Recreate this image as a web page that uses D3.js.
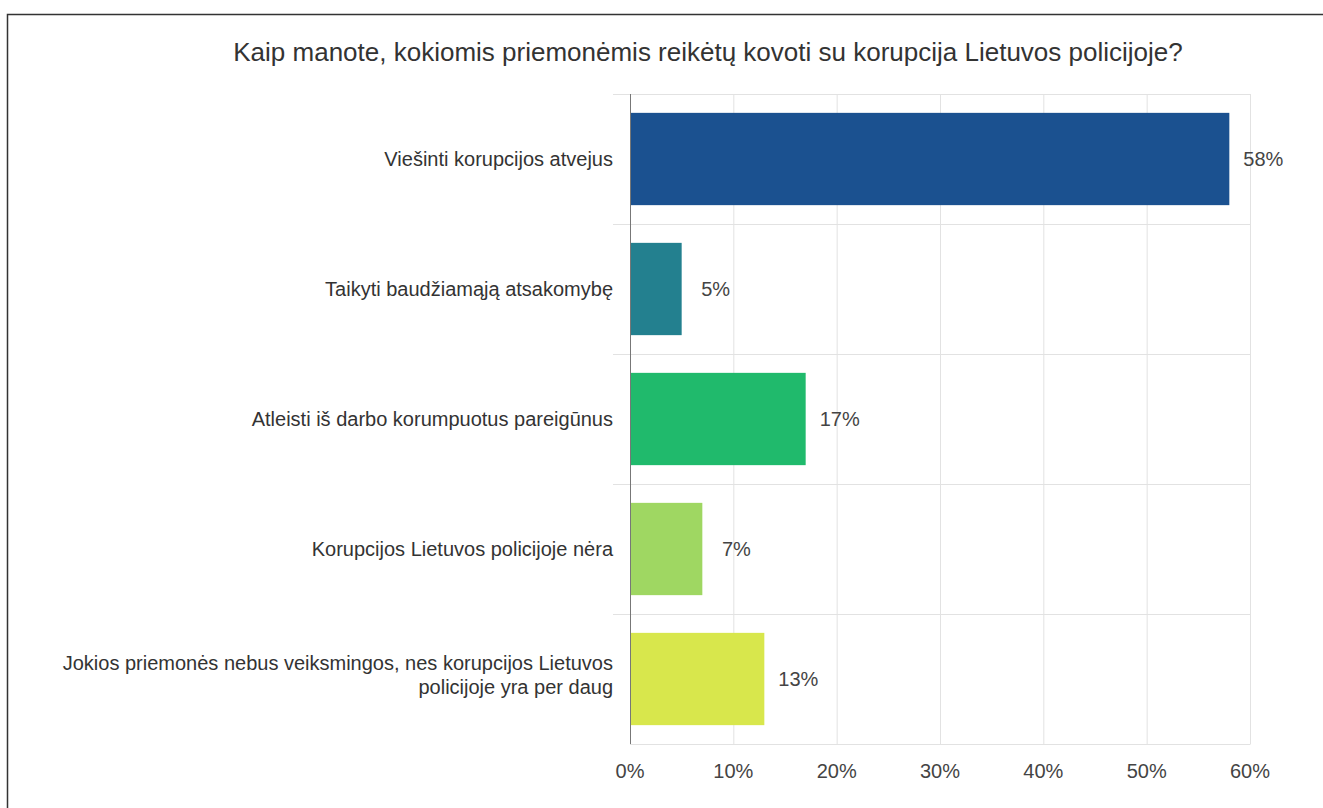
<!DOCTYPE html>
<html><head><meta charset="utf-8">
<script src="https://cdn.jsdelivr.net/npm/d3@7"></script>
<style>
html,body{margin:0;padding:0;background:#fff;}
svg{display:block;font-family:"Liberation Sans",Arial,sans-serif;}
</style></head>
<body>
<svg id="chart" width="1323" height="808"></svg>
<script>
const title = "Kaip manote, kokiomis priemonėmis reikėtų kovoti su korupcija Lietuvos policijoje?";
const categories = [
  ["Viešinti korupcijos atvejus"],
  ["Taikyti baudžiamąją atsakomybę"],
  ["Atleisti iš darbo korumpuotus pareigūnus"],
  ["Korupcijos Lietuvos policijoje nėra"],
  ["Jokios priemonės nebus veiksmingos, nes korupcijos Lietuvos", "policijoje yra per daug"]
];
const values = [58, 5, 17, 7, 13];
const colors = ["#1b5190", "#23808f", "#20ba6c", "#9fd762", "#d8e74c"];
const xTicks = [0, 10, 20, 30, 40, 50, 60];

const svg = d3.select("#chart");
// frame
svg.append("rect").attr("x", 7.5).attr("y", 14.5).attr("width", 1340).attr("height", 820)
  .attr("fill", "none").attr("stroke", "#333").attr("stroke-width", 1.5);

svg.append("text").attr("x", 708).attr("y", 61).attr("text-anchor", "middle")
  .attr("font-size", 26).attr("fill", "#333").text(title);

const x = d3.scaleLinear().domain([0, 60]).range([630, 1250]);
const y = d3.scaleBand().domain(d3.range(categories.length)).range([94, 744]).paddingInner(0.29).paddingOuter(0.145);
const yb = d3.scaleBand().domain(d3.range(categories.length)).range([94, 744]);

// vertical gridlines
svg.append("g").selectAll("line").data(xTicks.slice(1)).join("line")
  .attr("x1", d => x(d) + 0.5).attr("x2", d => x(d) + 0.5).attr("y1", 94).attr("y2", 744)
  .attr("stroke", "#e2e2e2");
// horizontal separators
const seps = d3.range(categories.length + 1);
svg.append("g").selectAll("line").data(seps).join("line")
  .attr("x1", d => d === categories.length ? x(0) : 613).attr("x2", x(60) + 0.5)
  .attr("y1", d => (d < categories.length ? yb(d) : 744) + 0.5)
  .attr("y2", d => (d < categories.length ? yb(d) : 744) + 0.5)
  .attr("stroke", "#e2e2e2");

// bars
svg.append("g").selectAll("rect").data(values).join("rect")
  .attr("x", x(0)).attr("y", (d, i) => y(i)).attr("width", d => x(d) - x(0)).attr("height", y.bandwidth())
  .attr("fill", (d, i) => colors[i]);

// zero axis
svg.append("line").attr("x1", x(0) + 0.5).attr("x2", x(0) + 0.5).attr("y1", 94).attr("y2", 744)
  .attr("stroke", "#777");

// value labels
svg.append("g").selectAll("text").data(values).join("text")
  .attr("x", d => x(d) + 34).attr("y", (d, i) => yb(i) + yb.bandwidth() / 2 + 7)
  .attr("text-anchor", "middle")
  .attr("font-size", 20).attr("fill", "#444").text(d => d + "%");

// category labels
const cl = svg.append("g").selectAll("text").data(categories).join("text")
  .attr("text-anchor", "end").attr("font-size", 20).attr("fill", "#333")
  .attr("y", (d, i) => yb(i) + yb.bandwidth() / 2 + 7 - (d.length - 1) * 16);
cl.selectAll("tspan").data(d => d).join("tspan")
  .attr("x", 613).attr("dy", (d, j) => j === 0 ? 0 : 24).text(d => d);

// x tick labels
svg.append("g").selectAll("text").data(xTicks).join("text")
  .attr("x", d => x(d)).attr("y", 778).attr("text-anchor", "middle")
  .attr("font-size", 20).attr("fill", "#444").text(d => d + "%");
</script>
</body></html>
